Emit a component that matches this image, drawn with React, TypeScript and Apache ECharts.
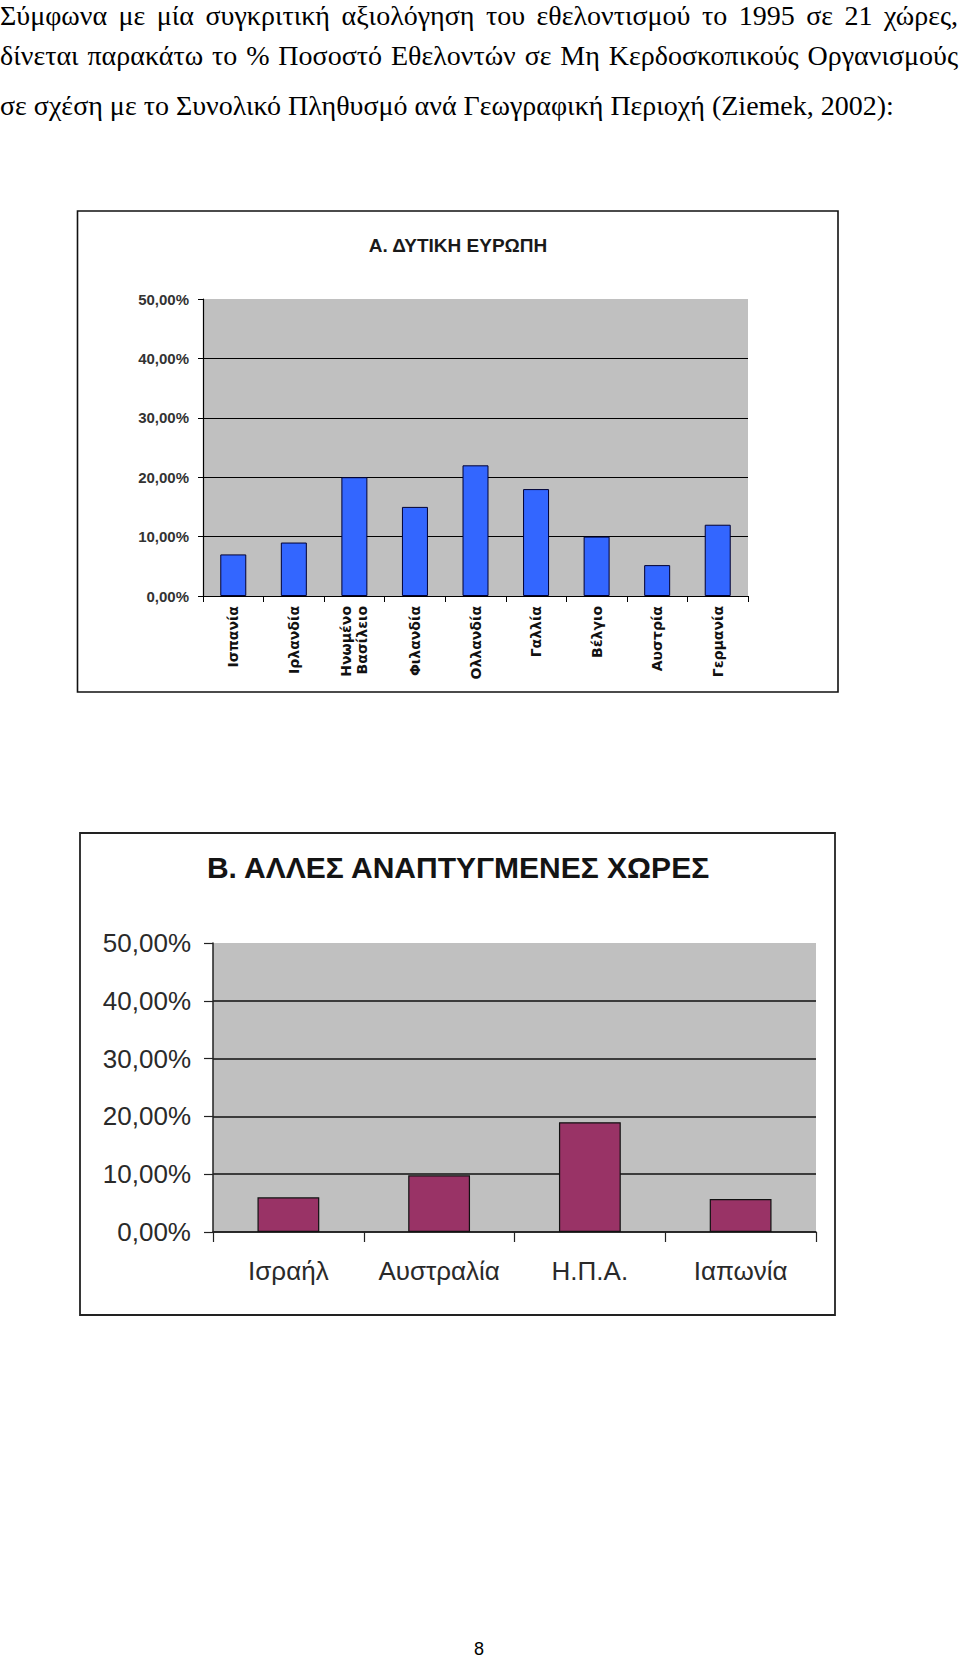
import React, { useEffect, useRef } from "react";
import * as echarts from "echarts";

// ---- Text ----
const paragraphLines = [
  "Σύμφωνα με μία συγκριτική αξιολόγηση του εθελοντισμού το 1995 σε 21 χώρες,",
  "δίνεται παρακάτω το % Ποσοστό Εθελοντών σε Μη Κερδοσκοπικούς Οργανισμούς",
  "σε σχέση με το Συνολικό Πληθυσμό ανά Γεωγραφική Περιοχή (Ziemek, 2002):",
];
const pageNumber = "8";

// ---- Chart A data ----
const titleA = "Α. ΔΥΤΙΚΗ ΕΥΡΩΠΗ";
const westCategories = [
  "Ισπανία",
  "Ιρλανδία",
  "Ηνωμένο\nΒασίλειο",
  "Φιλανδία",
  "Ολλανδία",
  "Γαλλία",
  "Βέλγιο",
  "Αυστρία",
  "Γερμανία",
];
const westValues = [7, 9, 20, 15, 22, 18, 10, 5.2, 12];

// ---- Chart B data ----
const titleB = "Β. ΑΛΛΕΣ ΑΝΑΠΤΥΓΜΕΝΕΣ ΧΩΡΕΣ";
const otherCategories = ["Ισραήλ", "Αυστραλία", "Η.Π.Α.", "Ιαπωνία"];
const otherValues = [6, 9.8, 19, 5.7];

// ---- Axis ----
const yMin = 0;
const yMax = 50;
const yInterval = 10;
const fmtPct = (v: number) => v.toFixed(2).replace(".", ",") + "%";

export default function App() {
  const ref = useRef<HTMLDivElement>(null);

  useEffect(() => {
    if (!ref.current) return;
    const chart = echarts.init(ref.current, null, { renderer: "svg" });
    const black = "#000";
    chart.setOption({
      animation: false,
      title: [
        {
          text: titleA,
          left: 458,
          top: 236,
          textAlign: "center",
          padding: 0,
          textStyle: {
            fontFamily: "'Liberation Sans', Arial, sans-serif",
            fontWeight: "bold",
            fontSize: 19,
            color: "#1a1a1a",
          },
        },
        {
          text: titleB,
          left: 458,
          top: 852,
          textAlign: "center",
          padding: 0,
          textStyle: {
            fontFamily: "'Liberation Sans', Arial, sans-serif",
            fontWeight: "bold",
            fontSize: 30,
            color: "#141414",
          },
        },
      ],
      graphic: [
        {
          type: "rect",
          shape: { x: 77.5, y: 211, width: 760.5, height: 481 },
          style: { fill: "none", stroke: "#111", lineWidth: 1.6 },
          silent: true,
        },
        {
          type: "rect",
          shape: { x: 80, y: 833, width: 755, height: 482 },
          style: { fill: "none", stroke: "#222", lineWidth: 1.8 },
          silent: true,
        },
      ],
      grid: [
        {
          left: 203,
          top: 299,
          width: 545,
          height: 297,
          show: true,
          backgroundColor: "#C0C0C0",
          borderWidth: 0,
          containLabel: false,
        },
        {
          left: 213,
          top: 943,
          width: 603,
          height: 289,
          show: true,
          backgroundColor: "#C0C0C0",
          borderWidth: 0,
          containLabel: false,
        },
      ],
      xAxis: [
        {
          gridIndex: 0,
          type: "category",
          data: westCategories,
          axisLine: { show: true, lineStyle: { color: black, width: 1.2 } },
          axisTick: { show: true, length: 6, lineStyle: { color: black } },
          axisLabel: {
            rotate: 90,
            margin: 10,
            fontFamily: "'DejaVu Sans', Verdana, sans-serif",
            fontWeight: "bold",
            fontSize: 14,
            lineHeight: 16,
            color: "#111",
            interval: 0,
          },
        },
        {
          gridIndex: 1,
          type: "category",
          data: otherCategories,
          axisLine: { show: true, lineStyle: { color: "#222", width: 1.5 } },
          axisTick: { show: true, length: 10, lineStyle: { color: "#222", width: 1.2 } },
          axisLabel: {
            margin: 26,
            fontFamily: "'Liberation Sans', Arial, sans-serif",
            fontSize: 26,
            color: "#2a2a2a",
            interval: 0,
          },
        },
      ],
      yAxis: [
        {
          gridIndex: 0,
          type: "value",
          min: yMin,
          max: yMax,
          interval: yInterval,
          axisLine: { show: true, lineStyle: { color: black, width: 1.2 } },
          axisTick: { show: true, length: 5, lineStyle: { color: black } },
          splitLine: { show: true, showMaxLine: false, lineStyle: { color: black, width: 1.2 } },
          axisLabel: {
            margin: 14,
            formatter: fmtPct,
            fontFamily: "'Liberation Sans Narrow', 'Liberation Sans', Arial, sans-serif",
            fontWeight: "bold",
            fontSize: 15,
            color: "#333",
          },
        },
        {
          gridIndex: 1,
          type: "value",
          min: yMin,
          max: yMax,
          interval: yInterval,
          axisLine: { show: true, lineStyle: { color: "#222", width: 1.5 } },
          axisTick: { show: true, length: 9, lineStyle: { color: "#222", width: 1.2 } },
          splitLine: { show: true, showMaxLine: false, lineStyle: { color: "#111", width: 1.6 } },
          axisLabel: {
            margin: 22,
            formatter: fmtPct,
            fontFamily: "'Liberation Sans', Arial, sans-serif",
            fontSize: 26,
            color: "#2a2a2a",
          },
        },
      ],
      series: [
        {
          type: "bar",
          xAxisIndex: 0,
          yAxisIndex: 0,
          data: westValues,
          barWidth: 26,
          itemStyle: { color: "#3366FF", borderColor: "#000033", borderWidth: 1 },
        },
        {
          type: "bar",
          xAxisIndex: 1,
          yAxisIndex: 1,
          data: otherValues,
          barWidth: "41%",
          itemStyle: { color: "#993366", borderColor: "#111", borderWidth: 1.2 },
        },
      ],
    });
    return () => chart.dispose();
  }, []);

  const lineTops = [2, 42, 92];
  return (
    <div
      style={{
        position: "absolute",
        left: 0,
        top: 0,
        width: 960,
        height: 1661,
        background: "#fff",
        overflow: "hidden",
      }}
    >
      <div ref={ref} style={{ position: "absolute", left: 0, top: 0, width: 960, height: 1661 }} />
      {paragraphLines.map((line, i) => (
        <div
          key={i}
          style={{
            position: "absolute",
            left: 0,
            top: lineTops[i],
            width: i < 2 ? 958 : undefined,
            whiteSpace: "nowrap",
            fontFamily: "'Liberation Serif', 'Times New Roman', serif",
            fontSize: 28,
            lineHeight: "28px",
            color: "#000",
            textAlign: i < 2 ? "justify" : "left",
            textAlignLast: i < 2 ? "justify" : "auto",
          }}
        >
          {line}
        </div>
      ))}
      <div
        style={{
          position: "absolute",
          left: 459,
          top: 1638,
          width: 40,
          textAlign: "center",
          fontFamily: "'Liberation Sans', Arial, sans-serif",
          fontSize: 18,
          lineHeight: "22px",
          color: "#000",
        }}
      >
        {pageNumber}
      </div>
    </div>
  );
}
